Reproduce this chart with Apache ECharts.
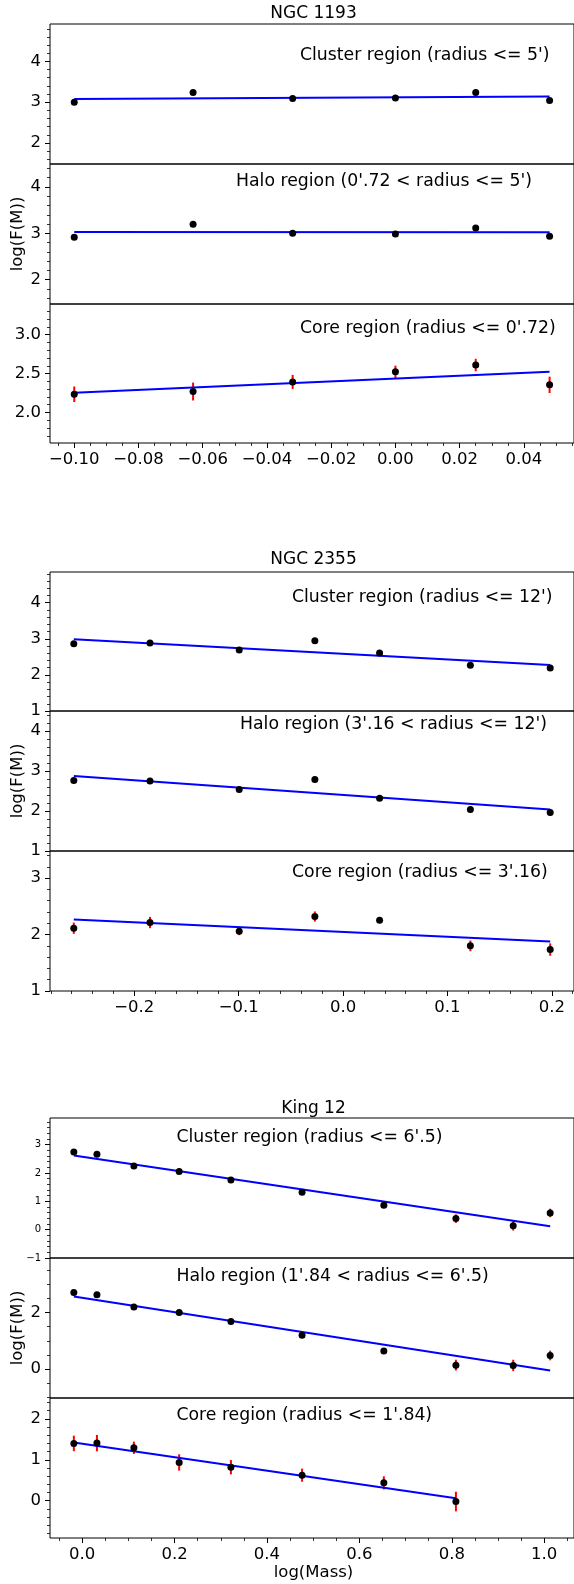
<!DOCTYPE html>
<html>
<head>
<meta charset="utf-8">
<script src="https://cdn.jsdelivr.net/npm/echarts@6/dist/echarts.min.js"></script>
<style>
html, body { margin: 0; padding: 0; background: #fff; }
#chart { width: 574px; height: 1584px; }
</style>
</head>
<body>
<div id="chart"></div>
<script>
// ---- NGC 1193 ----
const ngc1193Mass = [-0.100, -0.063, -0.032, 0.000, 0.025, 0.048];
const ngc1193ClusterF = [3.00, 3.235, 3.09, 3.105, 3.235, 3.04];
const ngc1193ClusterErr = [0.04, 0.05, 0.04, 0.04, 0.05, 0.05];
const ngc1193ClusterFit = [3.08, 3.14];
const ngc1193HaloF = [2.915, 3.195, 3.0, 2.985, 3.115, 2.94];
const ngc1193HaloErr = [0.05, 0.06, 0.05, 0.05, 0.06, 0.06];
const ngc1193HaloFit = [3.03, 3.025];
const ngc1193CoreF = [2.234, 2.269, 2.393, 2.522, 2.61, 2.355];
const ngc1193CoreErr = [0.10, 0.115, 0.09, 0.08, 0.08, 0.105];
const ngc1193CoreFit = [2.252, 2.522];
const ngc1193XTicks = [-0.10, -0.08, -0.06, -0.04, -0.02, 0.00, 0.02, 0.04];

// ---- NGC 2355 ----
const ngc2355Mass = [-0.258, -0.185, -0.0995, -0.027, 0.035, 0.122, 0.1985];
const ngc2355ClusterF = [2.862, 2.88, 2.688, 2.945, 2.605, 2.265, 2.19];
const ngc2355ClusterErr = [0.05, 0.05, 0.04, 0.05, 0.04, 0.06, 0.07];
const ngc2355ClusterFit = [2.99, 2.273];
const ngc2355HaloF = [2.76, 2.75, 2.54, 2.79, 2.317, 2.04, 1.96];
const ngc2355HaloErr = [0.06, 0.06, 0.05, 0.06, 0.05, 0.07, 0.08];
const ngc2355HaloFit = [2.875, 2.035];
const ngc2355CoreF = [2.112, 2.213, 2.059, 2.319, 2.254, 1.80, 1.734];
const ngc2355CoreErr = [0.10, 0.10, 0.07, 0.09, 0.05, 0.095, 0.11];
const ngc2355CoreFit = [2.266, 1.876];
const ngc2355XTicks = [-0.2, -0.1, 0.0, 0.1, 0.2];

// ---- King 12 ----
const king12Mass = [-0.018, 0.032, 0.112, 0.21, 0.322, 0.476, 0.653, 0.809, 0.933, 1.013];
const king12ClusterF = [2.744, 2.66, 2.25, 2.05, 1.755, 1.32, 0.86, 0.39, 0.14, 0.59];
const king12ClusterErr = [0.04, 0.04, 0.04, 0.05, 0.05, 0.06, 0.09, 0.15, 0.17, 0.15];
const king12ClusterFit = [2.613, 0.118];
const king12HaloF = [2.704, 2.62, 2.19, 2.0, 1.68, 1.19, 0.635, 0.14, 0.13, 0.48];
const king12HaloErr = [0.05, 0.05, 0.05, 0.06, 0.06, 0.08, 0.10, 0.19, 0.20, 0.17];
const king12HaloFit = [2.565, -0.05];
const king12CoreMass = king12Mass.slice(0, 8);
const king12CoreF = [1.40, 1.408, 1.294, 0.935, 0.82, 0.625, 0.437, -0.02];
const king12CoreErr = [0.19, 0.20, 0.15, 0.20, 0.175, 0.16, 0.16, 0.24];
const king12CoreFit = [1.424, 0.062];
const king12XTicks = [0.0, 0.2, 0.4, 0.6, 0.8, 1.0];

// y tick labels per panel
const yTicksA = [2, 3, 4];
const yTicksCore1193 = [2.0, 2.5, 3.0];
const yTicks2355 = [1, 2, 3, 4];
const yTicks2355Core = [1, 2, 3];
const yTicksK12Cluster = [-1, 0, 1, 2, 3];
const yTicksK12Halo = [0, 2];
const yTicksK12Core = [0, 1, 2];

const titles = ['NGC 1193', 'NGC 2355', 'King 12'];
const yName = 'log(F(M))';
const xName = 'log(Mass)';

const FONT = 'DejaVu Sans';
const TICK_FS = 16.5;

const fmt = (v, d) => v.toFixed(d).replace('-', '\u2212');
function steps(min, max, step) {
  const out = [];
  for (let k = Math.ceil(min / step - 1e-9); k * step <= max + 1e-9; k++) out.push(+(k * step).toFixed(6));
  return out;
}

const groups = [
  { mass: ngc1193Mass, xr: [-0.10755, 0.0556], xTicks: ngc1193XTicks, xDig: 2, xMinor: 0.005 },
  { mass: ngc2355Mass, xr: [-0.2808, 0.2213], xTicks: ngc2355XTicks, xDig: 1, xMinor: 0.02 },
  { mass: king12Mass, xr: [-0.0696, 1.0646], xTicks: king12XTicks, xDig: 1, xMinor: 0.05 }
];

const panels = [
  { g: 0, top: 24, h: 140, yr: [1.485, 4.917], yt: yTicksA, yd: 0, ym: 0.2, f: ngc1193ClusterF, e: ngc1193ClusterErr, fit: ngc1193ClusterFit,
    text: "Cluster region (radius <= 5')", tx: 300, ty: 56.7 },
  { g: 0, top: 164, h: 140, yr: [1.476, 4.496], yt: yTicksA, yd: 0, ym: 0.2, f: ngc1193HaloF, e: ngc1193HaloErr, fit: ngc1193HaloFit,
    text: "Halo region (0'.72 < radius <= 5')", tx: 236, ty: 182.7, yLabel: true },
  { g: 0, top: 304, h: 139, yr: [1.607, 3.395], yt: yTicksCore1193, yd: 1, ym: 0.1, f: ngc1193CoreF, e: ngc1193CoreErr, fit: ngc1193CoreFit,
    text: "Core region (radius <= 0'.72)", tx: 300, ty: 330, bottom: true },
  { g: 1, top: 572, h: 139, yr: [1.0, 4.85], yt: yTicks2355, yd: 0, ym: 0.2, f: ngc2355ClusterF, e: ngc2355ClusterErr, fit: ngc2355ClusterFit,
    text: "Cluster region (radius <= 12')", tx: 292, ty: 599.3 },
  { g: 1, top: 711, h: 140, yr: [1.0, 4.5], yt: yTicks2355, yd: 0, ym: 0.2, f: ngc2355HaloF, e: ngc2355HaloErr, fit: ngc2355HaloFit,
    text: "Halo region (3'.16 < radius <= 12')", tx: 240, ty: 726, yLabel: true },
  { g: 1, top: 851, h: 140, yr: [1.0, 3.48], yt: yTicks2355Core, yd: 0, ym: 0.2, f: ngc2355CoreF, e: ngc2355CoreErr, fit: ngc2355CoreFit,
    text: "Core region (radius <= 3'.16)", tx: 292, ty: 874, bottom: true },
  { g: 2, top: 1118, h: 140, yr: [-1.0, 3.94], yt: yTicksK12Cluster, yd: 0, ym: 0.2, yfs: 10, f: king12ClusterF, e: king12ClusterErr, fit: king12ClusterFit,
    text: "Cluster region (radius <= 6'.5)", tx: 176.4, ty: 1139.3 },
  { g: 2, top: 1258, h: 140, yr: [-1.02, 3.92], yt: yTicksK12Halo, yd: 0, ym: 0.5, f: king12HaloF, e: king12HaloErr, fit: king12HaloFit,
    text: "Halo region (1'.84 < radius <= 6'.5)", tx: 176.4, ty: 1278.3, yLabel: true },
  { g: 2, top: 1398, h: 140, yr: [-0.91, 2.51], yt: yTicksK12Core, yd: 0, ym: 0.2, f: king12CoreF, e: king12CoreErr, fit: king12CoreFit, mass: king12CoreMass,
    text: "Core region (radius <= 1'.84)", tx: 176.4, ty: 1417.3, bottom: true, xLabel: true }
];

const grid = [], xAxis = [], yAxis = [], series = [], graphic = [];
const noLine = { show: false, onZero: false };

panels.forEach((p, i) => {
  const G = groups[p.g];
  const mass = p.mass || G.mass;
  grid.push({ left: 50, width: 527, top: p.top, height: p.h, show: true, borderColor: '#000', borderWidth: 1, backgroundColor: 'transparent' });

  const xi = xAxis.length;
  xAxis.push({
    type: 'value', gridIndex: i, min: G.xr[0], max: G.xr[1], position: 'bottom',
    axisLine: noLine,
    splitLine: { show: false },
    axisTick: { show: !!p.bottom, length: 5, customValues: G.xTicks, lineStyle: { color: '#000', width: 1 } },
    axisLabel: { show: !!p.bottom, customValues: G.xTicks, formatter: v => fmt(v, G.xDig), color: '#000',
      fontFamily: FONT, fontSize: TICK_FS, margin: 8 }
  });
  if (p.bottom) {
    xAxis.push({
      type: 'value', gridIndex: i, min: G.xr[0], max: G.xr[1], position: 'bottom',
      axisLine: noLine, splitLine: { show: false }, axisLabel: { show: false },
      axisTick: { show: true, length: 3, customValues: steps(G.xr[0], G.xr[1], G.xMinor), lineStyle: { color: '#000', width: 0.8 } }
    });
  }

  const yi = yAxis.length;
  yAxis.push({
    type: 'value', gridIndex: i, min: p.yr[0], max: p.yr[1], position: 'left',
    axisLine: noLine,
    splitLine: { show: false },
    axisTick: { show: true, length: 5, customValues: p.yt, lineStyle: { color: '#000', width: 1 } },
    axisLabel: { show: true, customValues: p.yt, formatter: v => fmt(v, p.yd), color: '#000',
      fontFamily: FONT, fontSize: p.yfs || TICK_FS, margin: 9 }
  });
  yAxis.push({
    type: 'value', gridIndex: i, min: p.yr[0], max: p.yr[1], position: 'left',
    axisLine: noLine, splitLine: { show: false }, axisLabel: { show: false },
    axisTick: { show: true, length: 3, customValues: steps(p.yr[0], p.yr[1], p.ym), lineStyle: { color: '#000', width: 0.8 } }
  });

  const pts = mass.map((m, k) => [m, p.f[k], p.e[k]]);

  // vertical error bars
  series.push({
    type: 'custom', xAxisIndex: xi, yAxisIndex: yi, z: 2, silent: true,
    data: pts,
    renderItem: (params, api) => {
      const x = api.value(0), y = api.value(1), e = api.value(2);
      const a = api.coord([x, y - e]);
      const b = api.coord([x, y + e]);
      return { type: 'line', shape: { x1: a[0], y1: a[1], x2: b[0], y2: b[1] }, style: { stroke: '#ff0000', lineWidth: 2 } };
    }
  });
  // linear fit
  series.push({
    type: 'line', xAxisIndex: xi, yAxisIndex: yi, z: 3, silent: true,
    data: [[mass[0], p.fit[0]], [mass[mass.length - 1], p.fit[1]]],
    symbol: 'none', lineStyle: { color: '#0000ff', width: 2 }
  });
  // measured points
  series.push({
    type: 'scatter', xAxisIndex: xi, yAxisIndex: yi, z: 4, silent: true,
    data: pts.map(q => [q[0], q[1]]),
    symbol: 'circle', symbolSize: 7, itemStyle: { color: '#000', opacity: 1 }
  });

  graphic.push({
    type: 'text', left: p.tx, top: p.ty - 10, silent: true,
    style: { text: p.text, fontFamily: FONT, fontSize: 17.3, fill: '#000', textVerticalAlign: 'top' }
  });
  if (p.yLabel) {
    graphic.push({
      type: 'text', x: 17.4, y: p.top + p.h / 2, rotation: Math.PI / 2, silent: true,
      style: { text: yName, fontFamily: FONT, fontSize: 16.5, fill: '#000', align: 'center', verticalAlign: 'middle' }
    });
  }
  if (p.xLabel) {
    graphic.push({
      type: 'text', x: 313.5, y: 1572.7, silent: true,
      style: { text: xName, fontFamily: FONT, fontSize: 16.5, fill: '#000', align: 'center', verticalAlign: 'middle' }
    });
  }
});

const titleY = [13.3, 560, 1108.3];
titles.forEach((t, k) => {
  graphic.push({
    type: 'text', x: 313.5, y: titleY[k], silent: true,
    style: { text: t, fontFamily: FONT, fontSize: 17, fill: '#000', align: 'center', verticalAlign: 'middle' }
  });
});

const chart = echarts.init(document.getElementById('chart'), null, { renderer: 'canvas' });
chart.setOption({
  animation: false,
  backgroundColor: '#fff',
  grid, xAxis, yAxis, series, graphic
});
</script>
</body>
</html>
